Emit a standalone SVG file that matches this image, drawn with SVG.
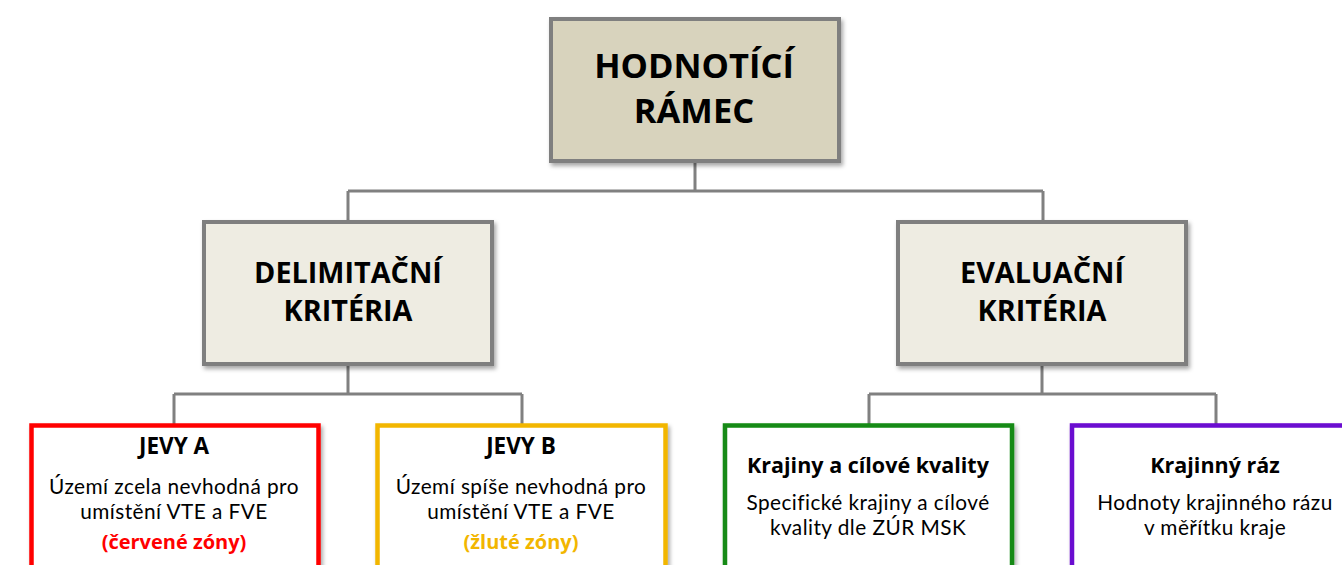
<svg xmlns="http://www.w3.org/2000/svg" width="1342" height="565" viewBox="0 0 1342 565">
  <defs>
    <filter id="sh" x="-10%" y="-10%" width="125%" height="130%">
      <feDropShadow dx="2" dy="3" stdDeviation="2" flood-color="#000" flood-opacity="0.35"/>
    </filter>
    <style>
      .hdr{stroke:#7f7f7f;stroke-width:4;}
      .top{fill:#d8d3bd;}
      .mid{fill:#eeece2;}
      .leaf{fill:#fff;stroke-width:4.5;}
      .conn{stroke:#808080;stroke-width:3;fill:none;}
      text{font-family:"Open Sans","Liberation Sans",sans-serif;text-anchor:middle;fill:#000;}
      .big{font-size:34.5px;font-weight:bold;}
      .mt{font-size:28.8px;font-weight:bold;}
      .bt{font-size:21.5px;font-weight:bold;}
      .jv{font-size:22.5px;font-weight:bold;}
      .zn{font-size:20px;font-weight:bold;}
      .rt{font-family:Lato,"Open Sans",sans-serif;font-size:20.8px;letter-spacing:0.45px;}
    </style>
  </defs>
  <rect width="1342" height="565" fill="#fff"/>
  <g id="connectors">
    <path class="conn" d="M695,161 V191 M348,191 H1043 M348,191 V222 M1043,191 V222"/>
    <path class="conn" d="M348,364 V394 M174,394 H522 M174,394 V425 M522,394 V425"/>
    <path class="conn" d="M1042,364 V394 M869,394 H1216 M869,394 V425 M1216,394 V425"/>
  </g>
  <g id="hodnotici-ramec">
    <rect class="hdr top" x="551" y="19" width="288" height="142" filter="url(#sh)"/>
    <text class="big" x="694" y="78">HODNOTÍCÍ<tspan x="694" dy="45">RÁMEC</tspan></text>
  </g>
  <g id="delimitacni-kriteria">
    <rect class="hdr mid" x="204" y="222" width="288" height="142" filter="url(#sh)"/>
    <text class="mt" x="348" y="283">DELIMITAČNÍ<tspan x="348" dy="38">KRITÉRIA</tspan></text>
  </g>
  <g id="evaluacni-kriteria">
    <rect class="hdr mid" x="898" y="222" width="288" height="142" filter="url(#sh)"/>
    <text class="mt" x="1042" y="283">EVALUAČNÍ<tspan x="1042" dy="38">KRITÉRIA</tspan></text>
  </g>
  <g id="jevy-a">
    <rect class="leaf" x="31.5" y="425.5" width="287" height="170" stroke="#ff0000" filter="url(#sh)"/>
    <text class="jv" x="174" y="454">JEVY A</text>
    <text class="rt" x="174" y="493.5">Území zcela nevhodná pro</text>
    <text class="rt" x="174" y="518.5">umístění VTE a FVE</text>
    <text class="zn" x="174" y="549" style="fill:#ff0000">(červené zóny)</text>
  </g>
  <g id="jevy-b">
    <rect class="leaf" x="377.5" y="425.5" width="288" height="170" stroke="#f2b600" filter="url(#sh)"/>
    <text class="jv" x="521" y="454">JEVY B</text>
    <text class="rt" x="521" y="493.5">Území spíše nevhodná pro</text>
    <text class="rt" x="521" y="518.5">umístění VTE a FVE</text>
    <text class="zn" x="521" y="549" style="fill:#f2b600">(žluté zóny)</text>
  </g>
  <g id="krajiny-cilove-kvality">
    <rect class="leaf" x="725" y="425.5" width="287" height="170" stroke="#128a12" filter="url(#sh)"/>
    <text class="bt" x="868" y="473">Krajiny a cílové kvality</text>
    <text class="rt" x="868" y="510">Specifické krajiny a cílové</text>
    <text class="rt" x="868" y="535">kvality dle ZÚR MSK</text>
  </g>
  <g id="krajinny-raz">
    <rect class="leaf" x="1072" y="425.5" width="287" height="170" stroke="#6a08d0" filter="url(#sh)"/>
    <text class="bt" x="1215" y="473">Krajinný ráz</text>
    <text class="rt" x="1215" y="510">Hodnoty krajinného rázu</text>
    <text class="rt" x="1215" y="535">v měřítku kraje</text>
  </g>
</svg>
